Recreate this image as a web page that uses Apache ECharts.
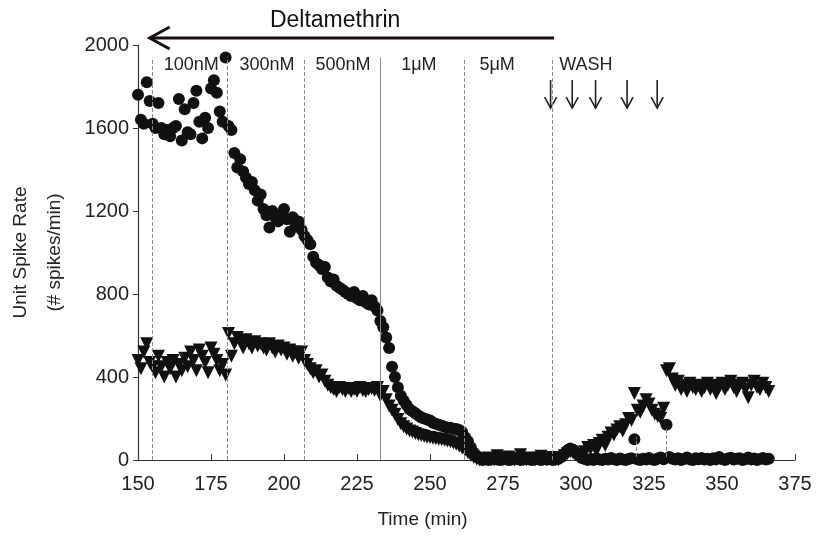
<!DOCTYPE html>
<html>
<head>
<meta charset="utf-8">
<script src="https://cdn.jsdelivr.net/npm/echarts@6/dist/echarts.min.js"></script>
<style>
html, body { margin: 0; padding: 0; background: #fff; }
#chart { width: 816px; height: 536px; }
</style>
</head>
<body>
<div id="chart"></div>
<script>
// sampling times (min)
const times = [
    150,151,152,153,154,155,156,157,158,159,160,161,162,163,164,165,166,167,168,169,
    170,171,172,173,174,175,176,177,178,179,180,181,182,183,184,185,186,187,188,189,
    190,191,192,193,194,195,196,197,198,199,200,201,202,203,204,205,206,207,208,209,
    210,211,212,213,214,215,216,217,218,219,220,221,222,223,224,225,226,227,228,229,
    230,231,232,233,234,235,236,237,238,239,240,241,242,243,244,245,246,247,248,249,
    250,251,252,253,254,255,256,257,258,259,260,261,262,263,264,265,266,267,268,269,
    270,271,272,273,274,275,276,277,278,279,280,281,282,283,284,285,286,287,288,289,
    290,291,292,293,294,295,296,297,298,299,300,301,302,303,304,305,306,307,308,309,
    310,311,312,313,314,315,316,317,318,319,320,321,322,323,324,325,326,327,328,329,
    330,331,332,333,334,335,336,337,338,339,340,341,342,343,344,345,346,347,348,349,
    350,351,352,353,354,355,356,357,358,359,360,361,362,363,364,365,366
];

// unit 1 (circles)
const circleRate = [
    1760,1640,1620,1820,1730,1620,1600,1720,1600,1570,1590,1560,1600,1610,1740,1540,1690,1580,1570,1720,
    1780,1630,1550,1650,1600,1790,1830,1770,1680,1630,1940,
    1610,1590,1480,1410,1450,1390,1360,1330,1340,1300,1250,1280,1210,1180,1120,1200,1170,1150,1180,1210,
    1160,1100,1170,1130,1150,1110,1080,1060,1040,980,950,940,920,930,880,860,870,840,830,820,
    810,800,790,810,780,770,790,760,750,770,740,720,670,
    640,590,540,450,400,350,310,285,265,245,235,225,215,205,200,195,190,180,175,170,
    165,160,155,155,150,150,145,135,110,90,60,35,20,10,0,
    5,0,3,8,2,0,6,4,0,2,10,5,0,3,7,2,0,5,4,0,8,2,5,0,3,6,
    15,30,45,55,50,35,20,10,5,0,
    5,0,8,3,0,6,2,10,4,0,7,3,0,5,8,100,4,0,6,2,10,3,0,7,12,4,170,15,6,2,
    9,0,5,12,3,0,8,4,10,2,6,0,9,3,14,5,0,7,11,2,6,9,0,4,12,3,7,0,5,10,2,6
];

// unit 2 (triangles)
const triangleRate = [
    480,440,520,560,470,450,420,500,450,400,470,440,480,400,460,430,490,450,520,480,
    430,530,500,470,420,540,510,480,430,460,410,
    610,500,560,590,570,540,580,560,540,570,550,560,540,530,560,540,520,550,530,540,
    510,530,500,520,490,520,480,460,440,420,430,400,410,380,360,350,340,330,350,340,
    330,345,330,340,330,350,335,330,340,345,335,350,310,
    330,290,260,240,220,195,175,160,150,140,135,128,122,118,114,110,108,105,103,100,
    98,95,92,88,82,76,68,58,48,35,22,12,5,0,
    0,5,10,3,0,20,8,0,4,15,2,0,6,25,3,0,10,5,0,8,18,2,0,6,12,3,0,
    10,20,30,40,35,25,15,20,40,60,55,70,45,80,95,70,110,130,120,145,
    160,140,170,200,190,320,240,230,260,290,270,240,220,210,200,250,430,440,390,360,
    380,340,360,330,370,350,340,360,330,350,370,340,360,320,350,370,340,360,380,350,
    330,360,370,340,300,360,380,350,340,370,350,330
];

// dose change times and labels
const doseBounds = [154.8, 180.5, 207, 233, 261.6, 291.8];
const doseNames = ['100nM', '300nM', '500nM', '1μM', '5μM', 'WASH'];
const doseLabelTimes = [168.2, 194.2, 220.2, 246.2, 273, 303.4];
const washTimes = [291.3, 298.7, 306.7, 317.5, 327.8];
const shortMarks = [[320.5, 15, 110], [331, 15, 160]];

const font = "'Liberation Sans', Arial, sans-serif";
const ink = '#111';

const circles = times.map((t, i) => [t, circleRate[i]]);
const triangles = times.map((t, i) => [t, triangleRate[i]]);

const boundLines = doseBounds.map((t, i) => [
    { coord: [t, 0], lineStyle: { type: i === 3 ? 'solid' : 'dashed' } },
    { coord: [t, 1940] }
]);
shortMarks.forEach(m => boundLines.push([{ coord: [m[0], m[1]] }, { coord: [m[0], m[2]] }]));

const chart = echarts.init(document.getElementById('chart'));

chart.setOption({
    animation: false,
    backgroundColor: '#fff',
    grid: { left: 138, right: 21, top: 45, bottom: 76, outerBoundsMode: 'none', containLabel: false },
    xAxis: {
        type: 'value',
        min: 150,
        max: 375,
        interval: 25,
        name: 'Time (min)',
        nameLocation: 'middle',
        nameGap: 50,
        nameTextStyle: { fontSize: 19, color: '#222', fontFamily: font, padding: [0, 88, 0, 0] },
        axisLine: { lineStyle: { color: '#333', width: 1.2 } },
        axisTick: { inside: true, length: 6, lineStyle: { color: '#333' } },
        axisLabel: { fontSize: 20, color: '#222', margin: 14, fontFamily: font },
        splitLine: { show: false }
    },
    yAxis: {
        type: 'value',
        min: 0,
        max: 2000,
        interval: 400,
        name: 'Unit Spike Rate\n(# spikes/min)',
        nameLocation: 'middle',
        nameRotate: 90,
        nameGap: 66,
        nameTextStyle: { fontSize: 19, lineHeight: 34, color: '#222', fontFamily: font },
        axisLine: { show: true, lineStyle: { color: '#333', width: 1.2 } },
        axisTick: { show: true, length: 5, lineStyle: { color: '#333' } },
        axisLabel: { fontSize: 20, color: '#222', margin: 9, fontFamily: font, formatter: v => String(v) },
        splitLine: { show: false }
    },
    series: [
        {
            name: 'unit1',
            type: 'scatter',
            data: circles,
            symbol: 'circle',
            symbolSize: 12,
            itemStyle: { color: ink, opacity: 1 },
            z: 3,
            markLine: {
                silent: true,
                symbol: 'none',
                label: { show: false },
                lineStyle: { color: '#8a8a8a', width: 1, type: 'dashed' },
                data: boundLines
            }
        },
        {
            name: 'unit2',
            type: 'scatter',
            data: triangles,
            symbol: 'triangle',
            symbolRotate: 180,
            symbolSize: 13,
            itemStyle: { color: ink, opacity: 1 },
            z: 3
        }
    ]
});

// annotations above the plot
const px = (t, v) => chart.convertToPixel({ gridIndex: 0 }, [t, v]);
const graphics = [];

doseNames.forEach((name, i) => {
    const p = px(doseLabelTimes[i], 1905);
    graphics.push({
        type: 'text', x: p[0], y: p[1],
        style: { text: name, fill: '#222', font: '18px ' + font, textAlign: 'center', textVerticalAlign: 'middle' }
    });
});

const titlePos = px(217.5, 2115);
graphics.push({
    type: 'text', x: titlePos[0], y: titlePos[1],
    style: { text: 'Deltamethrin', fill: '#111', font: '23px ' + font, textAlign: 'center', textVerticalAlign: 'middle' }
});

const arrowR = px(292.5, 2034);
const arrowL = px(154, 2034);
graphics.push({
    type: 'line',
    shape: { x1: arrowL[0] + 1, y1: arrowL[1], x2: arrowR[0], y2: arrowR[1] },
    style: { stroke: '#1a0f0f', lineWidth: 3 }
});
graphics.push({
    type: 'polyline',
    shape: { points: [[arrowL[0] + 20, arrowL[1] - 11], [arrowL[0], arrowL[1]], [arrowL[0] + 20, arrowL[1] + 11]] },
    style: { stroke: '#1a0f0f', lineWidth: 3, fill: null }
});

washTimes.forEach(t => {
    const top = px(t, 1831);
    const bot = px(t, 1696);
    graphics.push({
        type: 'line',
        shape: { x1: top[0], y1: top[1], x2: bot[0], y2: bot[1] },
        style: { stroke: '#222', lineWidth: 1.6 }
    });
    graphics.push({
        type: 'polyline',
        shape: { points: [[bot[0] - 6, bot[1] - 11], [bot[0], bot[1]], [bot[0] + 6, bot[1] - 11]] },
        style: { stroke: '#222', lineWidth: 1.6, fill: null }
    });
});

chart.setOption({ graphic: graphics });
</script>
</body>
</html>
